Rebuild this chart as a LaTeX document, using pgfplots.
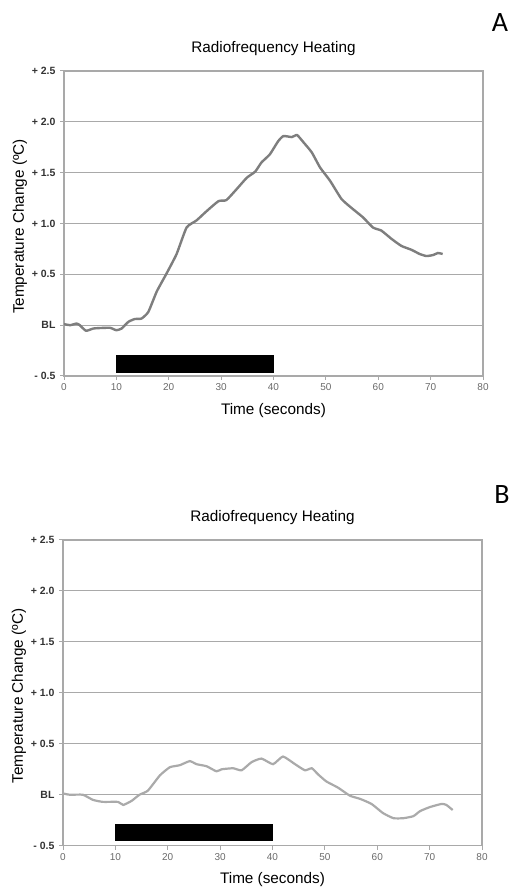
\documentclass[border=0pt]{standalone}
\usepackage{pgfplots}
\pgfplotsset{compat=1.18}
\usepackage{fontspec}
\setmainfont{Liberation Sans}
\newfontfamily\panelfont{Carlito}

\definecolor{gridgray}{HTML}{A9A9A9}
\definecolor{lineA}{HTML}{7E7E7E}
\definecolor{lineB}{HTML}{AAAAAA}
\definecolor{ticktext}{HTML}{6A6A6A}
\definecolor{ytext}{HTML}{333333}

% temperature trace, panel A
\pgfplotstableread{
t    dT
0.0  0.01
1.2  0.00
2.4  0.016
3.0  0.00
4.2  -0.055
5.6  -0.033
7.0  -0.028
8.8  -0.026
10.0 -0.05
11.0 -0.033
12.3 0.033
13.5 0.06
14.8 0.065
16.1 0.13
17.7 0.33
19.6 0.51
21.5 0.70
23.4 0.96
25.3 1.03
27.2 1.12
29.5 1.22
31.0 1.23
33.0 1.34
34.9 1.45
36.5 1.51
37.7 1.60
39.3 1.68
40.9 1.81
41.9 1.86
43.5 1.85
44.5 1.87
45.7 1.80
47.3 1.70
48.9 1.55
50.8 1.42
53.0 1.24
55.2 1.14
57.1 1.06
59.0 0.96
60.6 0.93
62.5 0.85
64.4 0.78
66.4 0.74
67.9 0.70
69.2 0.68
70.5 0.69
71.4 0.71
72.3 0.70
}\dataA

% temperature trace, panel B
\pgfplotstableread{
t    dT
0.0  0.013
1.3  0.00
3.8  0.00
5.7  -0.05
7.6  -0.07
10.5 -0.07
11.5 -0.10
13.1 -0.06
14.6 0.00
16.2 0.04
18.5 0.19
20.4 0.27
22.3 0.29
24.2 0.33
25.5 0.30
27.4 0.28
29.3 0.23
30.3 0.25
32.5 0.26
34.1 0.24
36.0 0.32
37.9 0.355
40.1 0.30
42.0 0.375
44.3 0.30
46.2 0.24
47.5 0.26
48.7 0.20
50.3 0.13
52.5 0.07
54.8 -0.01
56.7 -0.04
58.9 -0.09
61.1 -0.18
63.1 -0.23
65.0 -0.23
66.9 -0.21
68.2 -0.16
70.1 -0.12
72.3 -0.09
73.2 -0.10
74.4 -0.15
}\dataB

\pgfplotsset{rfstyle/.style={
  scale only axis, width=419pt, height=305pt,
  xmin=0, xmax=80, ymin=-0.5, ymax=2.5,
  xtick={0,10,...,80},
  ytick={-0.5,0,0.5,1,1.5,2,2.5},
  yticklabels={- 0.5, BL, + 0.5, + 1.0, + 1.5, + 2.0, + 2.5},
  ymajorgrids, grid style={gridgray, line width=1pt},
  axis line style={gridgray, line width=1.2pt},
  tick style={gridgray, line width=1pt}, major tick length=4pt,
  tick align=outside, tick pos=left,
  /pgf/number format/assume math mode=true,
  xticklabel style={font=\fontsize{10}{12}\selectfont, text=ticktext},
  yticklabel style={font=\bfseries\fontsize{10.5}{12}\selectfont, text=ytext, xshift=-1pt},
  title style={font=\fontsize{15.3}{18}\selectfont, at={(axis description cs:0.5,1.041)}, anchor=base},
  xlabel style={font=\fontsize{15.3}{18}\selectfont, at={(axis description cs:0.5,-0.112)}, anchor=center},
  ylabel style={font=\fontsize{15.3}{18}\selectfont, at={(axis description cs:-0.105,0.49)}, anchor=center},
  title={Radiofrequency Heating},
  xlabel={Time (seconds)},
  ylabel={Temperature Change (ºC)},
}}

\begin{document}
\begin{tikzpicture}
\useasboundingbox (0pt,0pt) rectangle (510pt,890pt);

\begin{axis}[rfstyle, at={(64pt,514pt)}, anchor=south west]
\addplot[fill=black, draw=black, line width=0.5pt] coordinates {(10,-0.46) (40,-0.46) (40,-0.30) (10,-0.30) (10,-0.46)};
\addplot[lineA, line width=2.4pt, smooth, tension=0.3] table[x=t, y=dT] {\dataA};
\end{axis}
\node[font=\panelfont\fontsize{28}{30}\selectfont] at (500pt,867pt) {A};

\begin{axis}[rfstyle, at={(63pt,44.3pt)}, anchor=south west, height=305.7pt]
\addplot[fill=black, draw=black, line width=0.5pt] coordinates {(10,-0.45) (40,-0.45) (40,-0.29) (10,-0.29) (10,-0.45)};
\addplot[lineB, line width=2.2pt, smooth, tension=0.3] table[x=t, y=dT] {\dataB};
\end{axis}
\node[font=\panelfont\fontsize{28}{30}\selectfont] at (502pt,395pt) {B};
\end{tikzpicture}
\end{document}
